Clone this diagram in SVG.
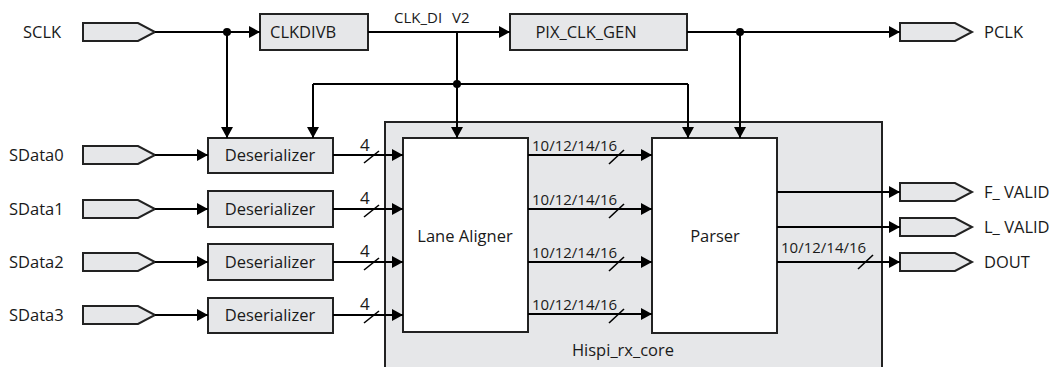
<svg xmlns="http://www.w3.org/2000/svg" width="1056" height="367" viewBox="0 0 1056 367">
<defs>
<marker id="arr" markerUnits="userSpaceOnUse" markerWidth="11" markerHeight="12" refX="11" refY="6" orient="auto"><path d="M0,0 L11,6 L0,12 z" fill="#000"/></marker>
<style>
.box{fill:#e6e7e9;stroke:#222;stroke-width:2}
.wbox{fill:#fff;stroke:#222;stroke-width:2}
.port{fill:#e6e7e9;stroke:#222;stroke-width:2}
.w{fill:none;stroke:#000;stroke-width:2}
.a{fill:none;stroke:#000;stroke-width:2;marker-end:url(#arr)}
.sl{stroke:#000;stroke-width:1.6}
text{font-family:"Open Sans","Liberation Sans",sans-serif;font-size:16.5px;fill:#1a1a1a}
.s{font-size:15px}
.f{font-size:17px}
.m{text-anchor:middle}
</style>
</defs>
<g id="core"><rect class="box" x="385" y="122" width="497" height="250"/><text class="m" x="623" y="356">Hispi_rx_core</text></g>
<g id="sclk"><polygon class="port" points="83,23 138,23 155,32 138,41 83,41"/><text x="23" y="38">SCLK</text></g>
<g id="clkdivb"><rect class="box" x="260" y="14" width="108" height="36"/><text x="270" y="38">CLKDIVB</text></g>
<g id="pixclkgen"><rect class="box" x="510" y="14" width="177" height="36"/><text class="m" x="586" y="38">PIX_CLK_GEN</text></g>
<g id="pclk"><polygon class="port" points="900,23 955,23 972,32 955,41 900,41"/><text x="984" y="38">PCLK</text></g>
<g id="sdata0"><polygon class="port" points="83,146 138,146 155,155 138,164 83,164"/><text x="9" y="161">SData0</text></g>
<g id="sdata1"><polygon class="port" points="83,200 138,200 155,209 138,218 83,218"/><text x="9" y="215">SData1</text></g>
<g id="sdata2"><polygon class="port" points="83,253 138,253 155,262 138,271 83,271"/><text x="9" y="268">SData2</text></g>
<g id="sdata3"><polygon class="port" points="83,306 138,306 155,315 138,324 83,324"/><text x="9" y="321">SData3</text></g>
<g id="deser0"><rect class="box" x="208" y="138" width="125" height="35"/><text class="m" x="270" y="161">Deserializer</text></g>
<g id="deser1"><rect class="box" x="208" y="191" width="125" height="36"/><text class="m" x="270" y="215">Deserializer</text></g>
<g id="deser2"><rect class="box" x="208" y="244" width="125" height="36"/><text class="m" x="270" y="268">Deserializer</text></g>
<g id="deser3"><rect class="box" x="208" y="298" width="125" height="35"/><text class="m" x="270" y="321">Deserializer</text></g>
<g id="lanealigner"><rect class="wbox" x="403" y="138" width="125" height="194"/><text class="m" x="465" y="242">Lane Aligner</text></g>
<g id="parser"><rect class="wbox" x="652" y="138" width="125" height="195"/><text class="m" x="715" y="242">Parser</text></g>
<g id="fvalid"><polygon class="port" points="900,183 955,183 972,192 955,201 900,201"/><text x="984" y="198">F_ VALID</text></g>
<g id="lvalid"><polygon class="port" points="900,218 955,218 972,227 955,236 900,236"/><text x="984" y="233">L_ VALID</text></g>
<g id="dout"><polygon class="port" points="900,253 955,253 972,262 955,271 900,271"/><text x="984" y="268">DOUT</text></g>
<g id="connectors">
<line class="a" x1="155" y1="32" x2="260" y2="32"/>
<line class="a" x1="227" y1="32" x2="227" y2="138"/>
<polyline class="a" points="313,84 313,138"/>
<line class="w" x1="313" y1="84" x2="688" y2="84"/>
<line class="a" x1="688" y1="84" x2="688" y2="138"/>
<line class="a" x1="368" y1="32" x2="510" y2="32"/>
<line class="a" x1="457" y1="32" x2="457" y2="138"/>
<line class="a" x1="687" y1="32" x2="900" y2="32"/>
<line class="a" x1="740" y1="32" x2="740" y2="138"/>
<circle cx="227" cy="32" r="4"/><circle cx="457" cy="84" r="4"/><circle cx="740" cy="32" r="4"/>
<text class="s" x="394" y="23">CLK_DI<tspan x="452">V2</tspan></text>
<line class="a" x1="155" y1="155" x2="208" y2="155"/>
<line class="a" x1="155" y1="209" x2="208" y2="209"/>
<line class="a" x1="155" y1="262" x2="208" y2="262"/>
<line class="a" x1="155" y1="315" x2="208" y2="315"/>
<line class="a" x1="333" y1="155" x2="403" y2="155"/>
<line class="a" x1="333" y1="209" x2="403" y2="209"/>
<line class="a" x1="333" y1="262" x2="403" y2="262"/>
<line class="a" x1="333" y1="315" x2="403" y2="315"/>
<line class="sl" x1="364" y1="163" x2="379" y2="151"/><text class="f" x="360" y="151">4</text>
<line class="sl" x1="364" y1="217" x2="379" y2="205"/><text class="f" x="360" y="204">4</text>
<line class="sl" x1="364" y1="270" x2="379" y2="258"/><text class="f" x="360" y="257">4</text>
<line class="sl" x1="364" y1="323" x2="379" y2="311"/><text class="f" x="360" y="310">4</text>
<line class="a" x1="528" y1="155" x2="652" y2="155"/>
<line class="a" x1="528" y1="209" x2="652" y2="209"/>
<line class="a" x1="528" y1="262" x2="652" y2="262"/>
<line class="a" x1="528" y1="314" x2="652" y2="314"/>
<line class="sl" x1="609" y1="164" x2="624" y2="150"/><text class="s" x="532" y="151">10/12/14/16</text>
<line class="sl" x1="609" y1="218" x2="624" y2="204"/><text class="s" x="532" y="205">10/12/14/16</text>
<line class="sl" x1="609" y1="271" x2="624" y2="257"/><text class="s" x="532" y="258">10/12/14/16</text>
<line class="sl" x1="609" y1="323" x2="624" y2="309"/><text class="s" x="532" y="310">10/12/14/16</text>
<line class="a" x1="777" y1="192" x2="900" y2="192"/>
<line class="a" x1="777" y1="227" x2="900" y2="227"/>
<line class="a" x1="777" y1="262" x2="900" y2="262"/>
<line class="sl" x1="858" y1="269" x2="873" y2="255"/><text class="s" x="781" y="253">10/12/14/16</text>
</g>
</svg>
